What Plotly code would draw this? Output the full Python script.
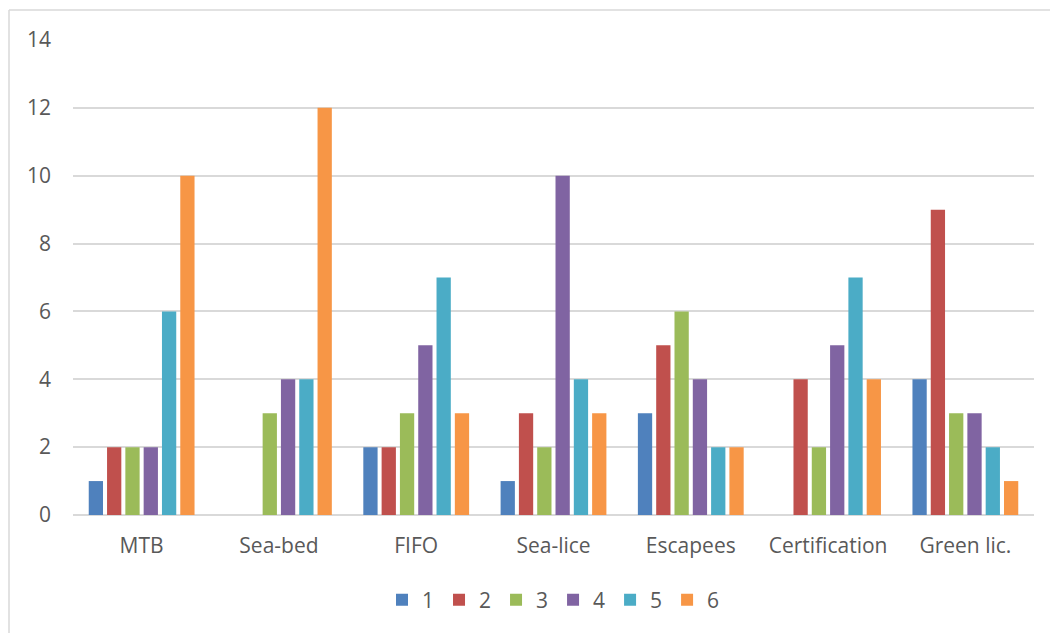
import plotly.graph_objects as go

categories = ["MTB", "Sea-bed", "FIFO", "Sea-lice", "Escapees", "Certification", "Green lic."]
series_names = ["1", "2", "3", "4", "5", "6"]
s1 = [1, 0, 2, 1, 3, 0, 4]
s2 = [2, 0, 2, 3, 5, 4, 9]
s3 = [2, 3, 3, 2, 6, 2, 3]
s4 = [2, 4, 5, 10, 4, 5, 3]
s5 = [6, 4, 7, 4, 2, 7, 2]
s6 = [10, 12, 3, 3, 2, 4, 1]
series_values = [s1, s2, s3, s4, s5, s6]
colors = ["#4F81BD", "#C0504D", "#9BBB59", "#8064A2", "#4BACC6", "#F79646"]
y_ticks = [0, 2, 4, 6, 8, 10, 12, 14]

fig = go.Figure()
for name, vals, col in zip(series_names, series_values, colors):
    fig.add_trace(go.Bar(
        x=categories, y=vals, name=name,
        marker=dict(color=col, line=dict(width=0)),
    ))

W, H = 1050, 633
L, R, T, B = 73, 16, 40, 118
pw, ph = W - L - R, H - T - B

def px_x(p):
    return (p - L) / pw

def px_y(p):
    return (H - B - p) / ph

font = dict(family="'Open Sans', sans-serif", size=21, color="#595959")

fig.update_layout(
    width=W, height=H,
    margin=dict(l=L, r=R, t=T, b=B),
    paper_bgcolor="white", plot_bgcolor="white",
    barmode="group", bargap=0.2, bargroupgap=0.22,
    font=font,
    showlegend=True,
    legend=dict(orientation="h", x=0.5, xanchor="center", y=px_y(600), yanchor="middle",
                font=font, itemwidth=30, traceorder="normal"),
    xaxis=dict(showgrid=False, showline=False, zeroline=False, ticks="",
               tickfont=font, ticklabelstandoff=16),
    yaxis=dict(range=[0, 14], tickvals=y_ticks, showgrid=True, gridcolor="#d9d9d9",
               gridwidth=1.5, zeroline=True, zerolinecolor="#d9d9d9", zerolinewidth=1.5,
               showline=False, ticks="", tickfont=font, ticklabelstandoff=21),
    shapes=[
        dict(type="line", xref="paper", yref="paper", x0=px_x(9), x1=px_x(1060),
             y0=px_y(10), y1=px_y(10), line=dict(color="#d9d9d9", width=1.5)),
        dict(type="line", xref="paper", yref="paper", x0=px_x(9), x1=px_x(9),
             y0=px_y(10), y1=px_y(640), line=dict(color="#d9d9d9", width=1.5)),
    ],
)

fig.write_html("out.html")
